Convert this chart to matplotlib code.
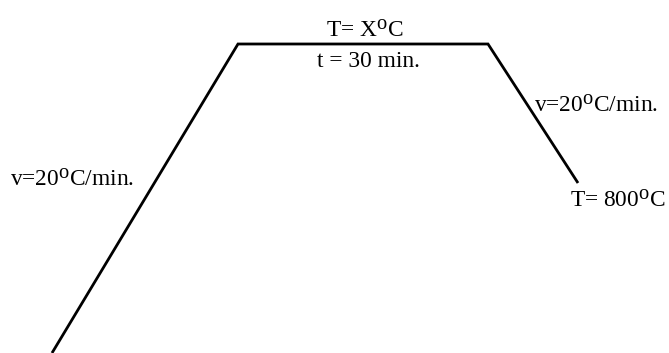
import matplotlib
matplotlib.use("Agg")
import matplotlib.pyplot as plt
import matplotlib._mathtext as _mt

# Heating profile (schematic units: time axis, temperature axis)
time = [52, 238, 488, 578]
temp = [0, 309, 309, 170]

labels = {
    "hold_T": "T= X$^\\mathregular{o}$C",
    "hold_t": "t = 30 min.",
    "rate_up": "v=20$^\\mathregular{o}$C/min.",
    "rate_down": "v=20$^\\mathregular{o}$C/min.",
    "end_T": "T= 800$^\\mathregular{o}$C",
}

_mt.SHRINK_FACTOR = 0.88
plt.rcParams["font.family"] = ["Liberation Serif", "DejaVu Serif"]
plt.rcParams["mathtext.default"] = "regular"

fig = plt.figure(figsize=(6.69, 3.53), dpi=100)
ax = fig.add_axes([0, 0, 1, 1])
ax.plot(time, temp, color="black", lw=2.0, solid_capstyle="butt", solid_joinstyle="miter")
ax.set_xlim(0, 669)
ax.set_ylim(0, 353)
ax.axis("off")

fs = 16.8
ax.text(365, 353 - 38, labels["hold_T"], ha="center", va="baseline", fontsize=fs)
ax.text(368, 353 - 67, labels["hold_t"], ha="center", va="baseline", fontsize=fs)
ax.text(596, 353 - 113, labels["rate_down"], ha="center", va="baseline", fontsize=fs)
ax.text(618, 353 - 208, labels["end_T"], ha="center", va="baseline", fontsize=fs)
ax.text(72, 353 - 187, labels["rate_up"], ha="center", va="baseline", fontsize=fs)

fig.savefig("out.png", dpi=100, facecolor="white")
